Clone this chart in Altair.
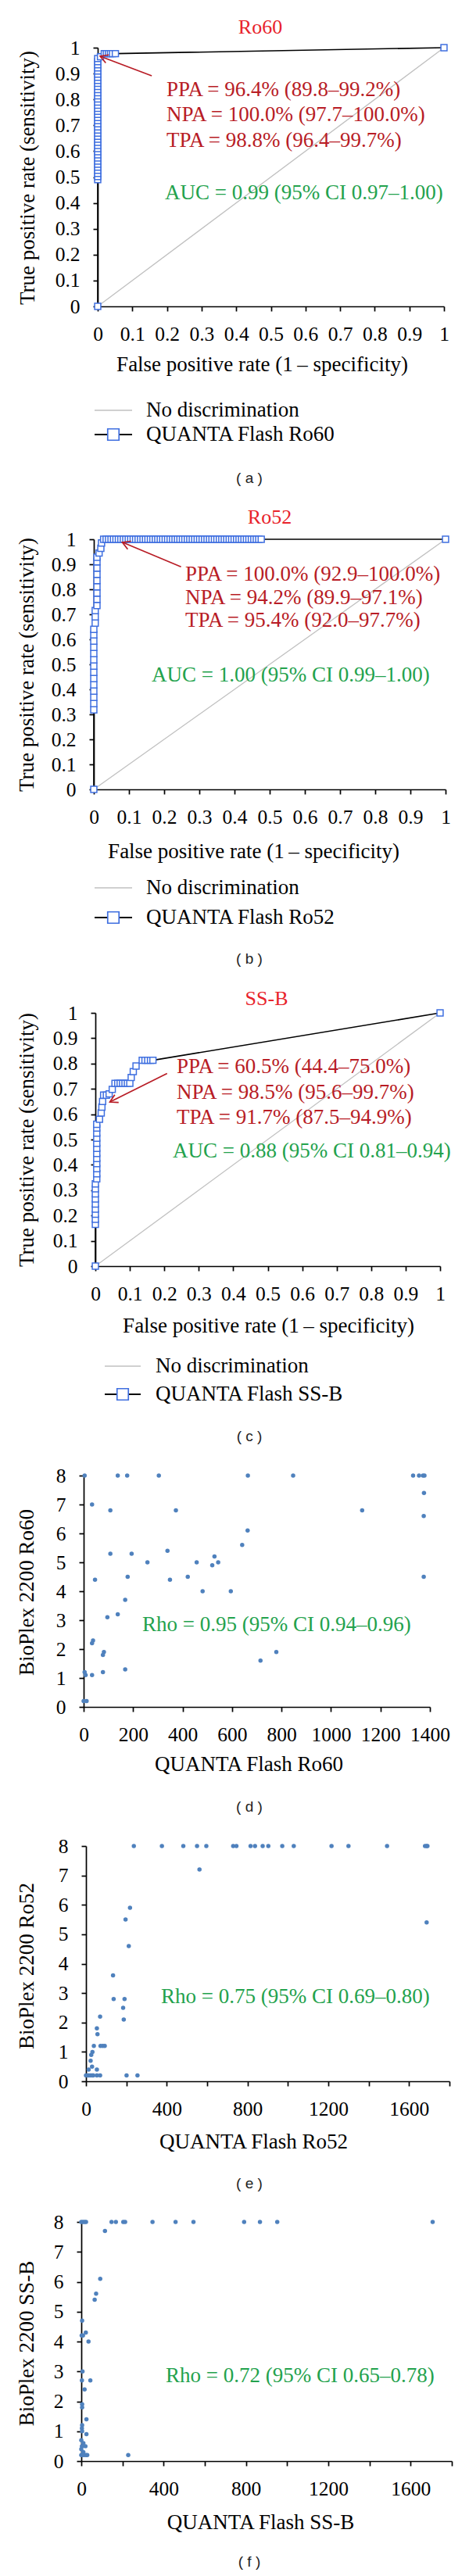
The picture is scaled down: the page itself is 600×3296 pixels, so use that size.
import math
import altair as alt
import pandas as pd

W, H, M = 584, 3288, 8
SERIF = "Liberation Serif"
SANS = "Liberation Sans"
RED_T = "#e8232b"
RED_A = "#b81c25"
GREEN = "#23a24d"
BLUE = "#3f6fe0"
DOT = "#4f81bd"
GRAY = "#c0c0c0"
FS_TXT = 27     # annotations / legend
FS_TITLE = 27   # axis titles
FS_TICK = 25.5  # tick labels
FS_HEAD = 26    # panel titles

# ---------------- data ----------------
roc_ticks = [0, 0.1, 0.2, 0.3, 0.4, 0.5, 0.6, 0.7, 0.8, 0.9, 1]
diag_x = [0, 1]
diag_y = [0, 1]

ro60_roc = [
    [0, 0],
    [0, 0.490], [0, 0.502], [0, 0.514], [0, 0.526], [0, 0.538], [0, 0.550], [0, 0.562], [0, 0.574],
    [0, 0.586], [0, 0.598], [0, 0.610], [0, 0.622], [0, 0.634], [0, 0.646], [0, 0.658], [0, 0.670],
    [0, 0.682], [0, 0.694], [0, 0.706], [0, 0.718], [0, 0.730], [0, 0.742], [0, 0.754], [0, 0.766],
    [0, 0.778], [0, 0.790], [0, 0.802], [0, 0.814], [0, 0.826], [0, 0.838], [0, 0.850], [0, 0.862],
    [0, 0.874], [0, 0.886], [0, 0.898], [0, 0.910], [0, 0.922], [0, 0.934], [0, 0.946], [0, 0.958],
    [0.008, 0.965], [0.019, 0.977], [0.025, 0.977], [0.031, 0.977], [0.037, 0.977], [0.043, 0.977],
    [0.051, 0.977],
    [1, 1],
]

ro52_roc = [
    [0, 0],
    [0, 0.318], [0, 0.343], [0, 0.368], [0, 0.393], [0, 0.418], [0, 0.443], [0, 0.468], [0, 0.493],
    [0, 0.518], [0, 0.543], [0, 0.568], [0, 0.593], [0, 0.618], [0, 0.640],
    [0.004, 0.665], [0.004, 0.690], [0.004, 0.715],
    [0.009, 0.735], [0.009, 0.760], [0.009, 0.785], [0.009, 0.810], [0.009, 0.835], [0.009, 0.860],
    [0.009, 0.885], [0.009, 0.910], [0.009, 0.928],
    [0.015, 0.945], [0.020, 0.964], [0.022, 0.985],
    [0.028, 1], [0.035, 1], [0.042, 1], [0.049, 1], [0.056, 1], [0.063, 1], [0.070, 1], [0.077, 1],
    [0.084, 1], [0.091, 1], [0.098, 1], [0.105, 1], [0.112, 1], [0.119, 1], [0.126, 1], [0.133, 1],
    [0.140, 1], [0.147, 1], [0.154, 1], [0.161, 1], [0.168, 1], [0.175, 1], [0.182, 1], [0.189, 1],
    [0.196, 1], [0.203, 1], [0.210, 1], [0.217, 1], [0.224, 1], [0.231, 1], [0.238, 1], [0.245, 1],
    [0.252, 1], [0.259, 1], [0.266, 1], [0.273, 1], [0.280, 1], [0.287, 1], [0.294, 1], [0.301, 1],
    [0.308, 1], [0.315, 1], [0.322, 1], [0.329, 1], [0.336, 1], [0.343, 1], [0.350, 1], [0.357, 1],
    [0.364, 1], [0.371, 1], [0.378, 1], [0.385, 1], [0.392, 1], [0.399, 1], [0.406, 1], [0.413, 1],
    [0.420, 1], [0.427, 1], [0.434, 1], [0.441, 1], [0.448, 1], [0.455, 1], [0.462, 1], [0.469, 1],
    [0.476, 1],
    [1, 1],
]

ssb_roc = [
    [0, 0],
    [0, 0.165], [0, 0.185], [0, 0.205], [0, 0.225], [0, 0.245], [0, 0.265], [0, 0.285], [0, 0.305],
    [0, 0.325],
    [0.004, 0.345], [0.004, 0.365], [0.004, 0.385], [0.004, 0.405], [0.004, 0.425], [0.004, 0.445],
    [0.004, 0.465], [0.004, 0.485], [0.004, 0.505], [0.004, 0.525], [0.004, 0.545], [0.004, 0.560],
    [0.012, 0.580], [0.017, 0.605], [0.019, 0.628], [0.021, 0.650], [0.024, 0.675], [0.032, 0.675],
    [0.040, 0.680], [0.049, 0.698], [0.057, 0.722], [0.065, 0.722], [0.072, 0.722], [0.079, 0.722],
    [0.086, 0.722], [0.093, 0.722], [0.100, 0.722], [0.104, 0.745], [0.110, 0.768], [0.118, 0.790],
    [0.136, 0.813], [0.144, 0.813], [0.152, 0.813], [0.160, 0.813], [0.167, 0.813],
    [1, 1],
]

# arrows: [tail_x, tail_y, tip_x, tip_y] in data units
ro60_arrow = [0.156, 0.891, 0.007, 0.967]
ro52_arrow = [0.248, 0.890, 0.081, 0.988]
ssb_arrow = [0.208, 0.761, 0.042, 0.648]

scatter_yticks = [0, 1, 2, 3, 4, 5, 6, 7, 8]
d_xticks = [0, 200, 400, 600, 800, 1000, 1200, 1400]
ef_xticks = [0, 200, 400, 600, 800, 1000, 1200, 1400, 1600, 1800]

ro60_scatter = [
    [4, 8], [138, 8], [176, 8], [304, 8], [664, 8], [847, 8], [1332, 8], [1356, 8], [1372, 8], [1378, 8],
    [34, 7.0], [108, 6.8], [373, 6.8], [1126, 6.8], [1376, 7.4], [1375, 6.6],
    [663, 6.1], [641, 5.6], [108, 5.3], [194, 5.3], [339, 5.4], [258, 5.0], [457, 5.0], [529, 5.2],
    [520, 4.9], [544, 5.0], [178, 4.5], [421, 4.5], [1375, 4.5], [46, 4.4], [349, 4.4], [481, 4.0],
    [595, 4.0], [168, 3.7], [96, 3.1], [138, 3.2], [34, 2.2], [38, 2.3], [82, 1.9], [78, 1.8],
    [715, 1.6], [779, 1.9], [4, 1.2], [8, 1.1], [34, 1.1], [78, 1.2], [168, 1.3], [0, 0.2], [12, 0.2],
]

ro52_scatter = [
    [237, 8], [376, 8], [482, 8], [550, 8], [596, 8], [729, 8], [745, 8], [815, 8], [837, 8], [875, 8],
    [903, 8], [972, 8], [1029, 8], [1216, 8], [1300, 8], [1491, 8], [1679, 8], [1687, 8], [1691, 8],
    [562, 7.2], [218, 5.9], [196, 5.5], [212, 4.6], [1687, 5.4], [134, 3.6], [137, 2.8], [191, 2.8],
    [184, 2.5], [187, 2.1], [70, 2.2], [54, 1.8], [57, 1.6], [39, 1.2], [72, 1.2], [83, 1.2], [93, 1.2],
    [32, 1.0], [26, 0.9], [23, 0.7], [30, 0.5], [13, 0.4], [54, 0.4],
    [0, 0.2], [8, 0.2], [15, 0.2], [23, 0.2], [31, 0.2], [36, 0.2], [54, 0.2], [70, 0.2], [201, 0.2],
    [255, 0.2],
]

ssb_scatter = [
    [0, 8], [8, 8], [16, 8], [23, 8], [147, 8], [168, 8], [204, 8], [213, 8], [346, 8], [458, 8],
    [545, 8], [791, 8], [868, 8], [952, 8], [1707, 8],
    [115, 7.7], [92, 6.1], [72, 5.6], [65, 5.4], [4, 4.7], [2, 4.2], [8, 4.2], [22, 4.3], [35, 4.0],
    [6, 3.0], [3, 2.7], [44, 2.7], [16, 2.4], [4, 1.9], [4, 1.8], [25, 1.4], [4, 1.2], [3, 1.1],
    [4, 1.0], [25, 0.9], [0, 0.7], [10, 0.6], [20, 0.5], [3, 0.5], [0, 0.4], [10, 0.3],
    [0, 0.2], [4, 0.2], [13, 0.2], [23, 0.2], [29, 0.2], [228, 0.2],
]

# ---------------- layout (page pixels) ----------------
ROC_FMT = {"format": "~g"}
PA = dict(x0=125, x1=568, y0=392, y1=61, xdom=[0, 1], ydom=[0, 1], xticks=roc_ticks, yticks=roc_ticks,
          xfmt=ROC_FMT, xtitle="False positive rate (1\u2009\u2013 specificity)",
          ytitle="True positive rate (sensitivity)", xt=(335, 466), yt=(35, 227),
          title=("Ro60", 333, 35), stats_x=213, stats_y=[115, 147, 180], auc=(211, 247),
          leg=dict(xa=121, xb=169, tx=187, r1=525, r2=556), tag=("( a )", 319, 612))
PB = dict(x0=120, x1=570, y0=1010, y1=690, xdom=[0, 1], ydom=[0, 1], xticks=roc_ticks, yticks=roc_ticks,
          xfmt=ROC_FMT, xtitle="False positive rate (1\u2009\u2013 specificity)",
          ytitle="True positive rate (sensitivity)", xt=(324, 1089), yt=(34, 850),
          title=("Ro52", 345, 662), stats_x=237, stats_y=[735, 765, 794], auc=(194, 864),
          leg=dict(xa=121, xb=169, tx=187, r1=1136, r2=1174), tag=("( b )", 319, 1227))
PC = dict(x0=122, x1=563, y0=1620, y1=1296, xdom=[0, 1], ydom=[0, 1], xticks=roc_ticks, yticks=roc_ticks,
          xfmt=ROC_FMT, xtitle="False positive rate (1\u2009\u2013 specificity)",
          ytitle="True positive rate (sensitivity)", xt=(343, 1696), yt=(34, 1458),
          title=("SS-B", 341, 1278), stats_x=226, stats_y=[1365, 1398, 1430], auc=(221, 1473),
          leg=dict(xa=134, xb=180, tx=199, r1=1748, r2=1784), tag=("( c )", 319, 1838))

EF_FMT = {"labelExpr": "datum.value % 400 == 0 ? format(datum.value, 'd') : ''"}
PD = dict(x0=107, x1=550, y0=2184, y1=1888, xdom=[0, 1400], ydom=[0, 8], xticks=d_xticks,
          yticks=scatter_yticks, xfmt={"format": "d"}, xtitle="QUANTA  Flash Ro60",
          ytitle="BioPlex 2200 Ro60", xt=(318, 2257), yt=(34, 2037), rho=(182, 2079),
          tag=("( d )", 319, 2312))
PE = dict(x0=110, x1=575, y0=2663, y1=2362, xdom=[0, 1800], ydom=[0, 8], xticks=ef_xticks,
          yticks=scatter_yticks, xfmt=EF_FMT, xtitle="QUANTA  Flash Ro52",
          ytitle="BioPlex 2200 Ro52", xt=(324, 2740), yt=(34, 2515), rho=(206, 2555),
          tag=("( e )", 319, 2794))
PF = dict(x0=104, x1=578, y0=3149, y1=2843, xdom=[0, 1800], ydom=[0, 8], xticks=ef_xticks,
          yticks=scatter_yticks, xfmt=EF_FMT, xtitle="QUANTA  Flash SS-B",
          ytitle="BioPlex 2200 SS-B", xt=(333, 3227), yt=(34, 2998), rho=(212, 3040),
          tag=("( f )", 319, 3278))

one = pd.DataFrame({"k": [0]})


def enc(P, fx, fy):
    X = alt.X(f"{fx}:Q",
              scale=alt.Scale(domain=P["xdom"], range=[P["x0"] - M, P["x1"] - M], nice=False, zero=False),
              axis=alt.Axis(orient="bottom", offset=P["y0"] - M - H, values=P["xticks"], title=P["xtitle"],
                            titleX=P["xt"][0] - M, titleY=P["xt"][1] - P["y0"], titleBaseline="middle",
                            titleAlign="center", labelPadding=29, **P["xfmt"]))
    Y = alt.Y(f"{fy}:Q",
              scale=alt.Scale(domain=P["ydom"], range=[P["y0"] - M, P["y1"] - M], nice=False, zero=False),
              axis=alt.Axis(orient="left", offset=-(P["x0"] - M), values=P["yticks"], title=P["ytitle"],
                            format="~g", labelPadding=17, titleX=P["yt"][0] - P["x0"],
                            titleY=P["yt"][1] - M, titleAngle=270, titleBaseline="middle",
                            titleAlign="center"))
    return X, Y


def txt(s, x, y, size=FS_TXT, color="black", align="left", font=SERIF):
    return alt.Chart(one).mark_text(text=s, font=font, fontSize=size, color=color, align=align,
                                    baseline="middle").encode(x=alt.value(x - M), y=alt.value(y - M))


def hrule(xa, xb, y, color, w):
    return alt.Chart(one).mark_rule(color=color, strokeWidth=w).encode(
        x=alt.value(xa - M), x2=alt.value(xb - M), y=alt.value(y - M))


def roc_panel(P, pts, arrow, stats, auc_txt, legend_name):
    X, Y = enc(P, "x", "y")
    ddf = pd.DataFrame({"x": diag_x, "y": diag_y})
    cdf = pd.DataFrame({"i": list(range(len(pts))), "x": [p[0] for p in pts], "y": [p[1] for p in pts]})
    adf = pd.DataFrame({"x": [arrow[0]], "y": [arrow[1]], "xb": [arrow[2]], "yb": [arrow[3]]})
    Xa, Ya = enc(P, "xb", "yb")
    diag = alt.Chart(ddf).mark_line(color=GRAY, strokeWidth=1.3).encode(x=X, y=Y)
    line = alt.Chart(cdf).mark_line(color="black", strokeWidth=1.6).encode(x=X, y=Y, order="i:Q")
    sq = alt.Chart(cdf).mark_square(size=62, filled=True, fill="white", stroke=BLUE, strokeWidth=1.5,
                                    opacity=1).encode(x=X, y=Y)
    shaft = alt.Chart(adf).mark_rule(color=RED_A, strokeWidth=1.7).encode(x=X, y=Y, x2="xb:Q", y2="yb:Q")
    px = lambda v: P["x0"] + v * (P["x1"] - P["x0"])
    py = lambda v: P["y0"] + v * (P["y1"] - P["y0"])
    ang = math.degrees(math.atan2(py(arrow[3]) - py(arrow[1]), px(arrow[2]) - px(arrow[0]))) % 360
    head = alt.Chart(adf).mark_point(shape="M -1.6 -0.9 L 0 0 L -1.6 0.9", angle=ang, size=150,
                                     filled=False, color=RED_A, strokeWidth=1.7, opacity=1).encode(x=Xa, y=Ya)
    layers = [diag, line, sq, shaft, head]
    t, tx, ty = P["title"]
    layers.append(txt(t, tx, ty, size=FS_HEAD, color=RED_T, align="center"))
    for s, yy in zip(stats, P["stats_y"]):
        layers.append(txt(s, P["stats_x"], yy, color=RED_A))
    layers.append(txt(auc_txt, P["auc"][0], P["auc"][1], color=GREEN))
    L = P["leg"]
    layers.append(hrule(L["xa"], L["xb"], L["r1"], GRAY, 1.5))
    layers.append(txt("No discrimination", L["tx"], L["r1"]))
    layers.append(hrule(L["xa"], L["xb"], L["r2"], "black", 1.8))
    layers.append(alt.Chart(one).mark_square(size=210, filled=True, fill="white", stroke=BLUE, strokeWidth=1.7,
                                             opacity=1).encode(x=alt.value((L["xa"] + L["xb"]) / 2 - M),
                                                               y=alt.value(L["r2"] - M)))
    layers.append(txt(legend_name, L["tx"], L["r2"]))
    g, gx, gy = P["tag"]
    layers.append(txt(g, gx, gy, size=19, align="center", font=SANS, color="#222222"))
    return alt.layer(*layers)


def scatter_panel(P, pts, rho_txt):
    X, Y = enc(P, "q", "b")
    df = pd.DataFrame({"q": [p[0] for p in pts], "b": [p[1] for p in pts]})
    dots = alt.Chart(df).mark_circle(size=30, color=DOT, opacity=1).encode(x=X, y=Y)
    g, gx, gy = P["tag"]
    return alt.layer(
        dots,
        txt(rho_txt, P["rho"][0], P["rho"][1], color=GREEN),
        txt(g, gx, gy, size=19, align="center", font=SANS, color="#222222"),
    )


panels = [
    roc_panel(PA, ro60_roc, ro60_arrow,
              ["PPA = 96.4% (89.8\u201399.2%)", "NPA = 100.0% (97.7\u2013100.0%)", "TPA = 98.8% (96.4\u201399.7%)"],
              "AUC = 0.99 (95% CI 0.97\u20131.00)", "QUANTA  Flash Ro60"),
    roc_panel(PB, ro52_roc, ro52_arrow,
              ["PPA = 100.0% (92.9\u2013100.0%)", "NPA = 94.2% (89.9\u201397.1%)", "TPA = 95.4% (92.0\u201397.7%)"],
              "AUC = 1.00 (95% CI 0.99\u20131.00)", "QUANTA  Flash Ro52"),
    roc_panel(PC, ssb_roc, ssb_arrow,
              ["PPA = 60.5% (44.4\u201375.0%)", "NPA = 98.5% (95.6\u201399.7%)", "TPA = 91.7% (87.5\u201394.9%)"],
              "AUC = 0.88 (95% CI 0.81\u20130.94)", "QUANTA  Flash SS-B"),
    scatter_panel(PD, ro60_scatter, "Rho = 0.95 (95% CI 0.94\u20130.96)"),
    scatter_panel(PE, ro52_scatter, "Rho = 0.75 (95% CI 0.69\u20130.80)"),
    scatter_panel(PF, ssb_scatter, "Rho = 0.72 (95% CI 0.65\u20130.78)"),
]

chart = alt.layer(*panels).resolve_scale(x="independent", y="independent").properties(
    width=W, height=H, padding=0, autosize=alt.AutoSizeParams(type="none")
).configure_view(stroke=None).configure_axis(
    domainColor="black", tickColor="black", labelColor="black", titleColor="black",
    labelFont=SERIF, titleFont=SERIF, labelFontSize=FS_TICK, titleFontSize=FS_TITLE, titleFontWeight="normal",
    grid=False, tickSize=6, domainWidth=1.7, tickWidth=1.7, labelFlush=False, labelOverlap=False,
    labelBaseline="middle",
)

chart.save("out.html", embed_options={"renderer": "svg", "actions": False})
